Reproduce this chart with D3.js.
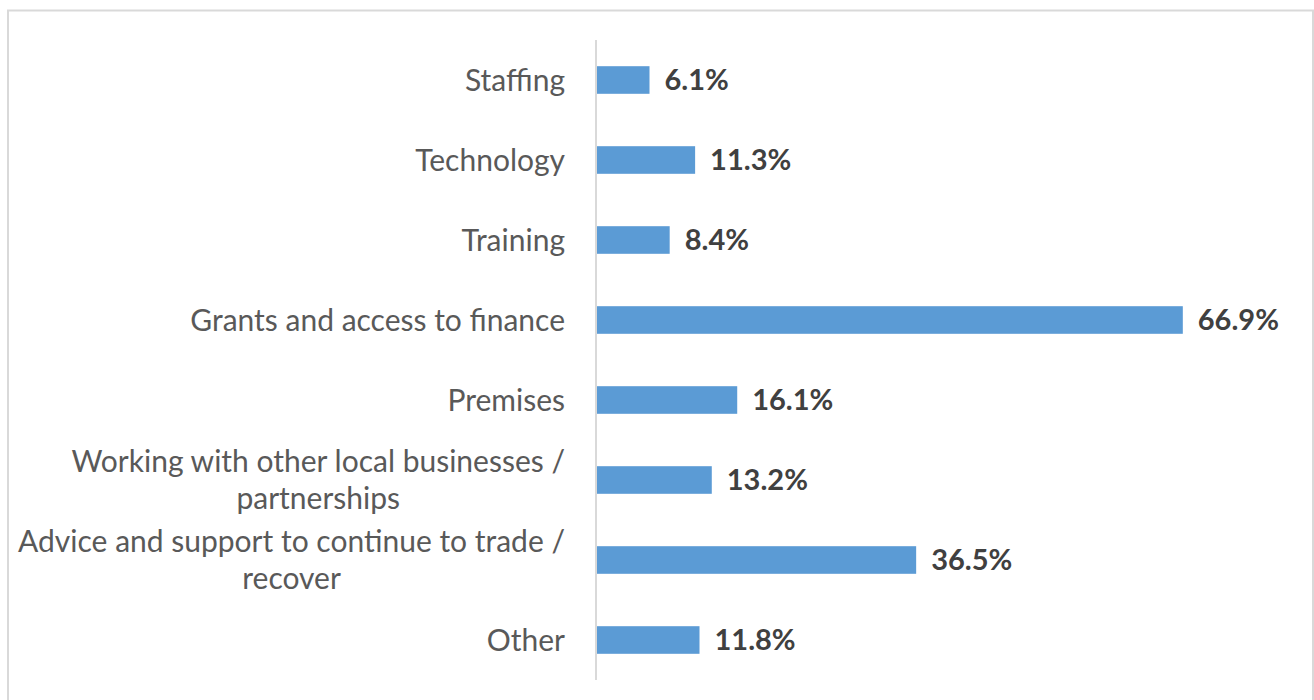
<!DOCTYPE html>
<html lang="en">
<head>
    <meta charset="UTF-8">
    <title>Support needed</title>
    <script src="https://d3js.org/d3.v7.min.js"></script>
    <style>
        body {
            margin: 0;
            padding: 0;
            background: #fff;
            font-family: Lato, "Open Sans", sans-serif;
        }
    </style>
</head>
<body>
<div id="chart"></div>
<script>
// categories, top to bottom
const categories = [
    "Staffing",
    "Technology",
    "Training",
    "Grants and access to finance",
    "Premises",
    "Working with other local businesses / partnerships",
    "Advice and support to continue to trade / recover",
    "Other"
];
// share of responses (%)
const values = [6.1, 11.3, 8.4, 66.9, 16.1, 13.2, 36.5, 11.8];

const width = 1314, height = 700;
const svg = d3.select("#chart")
  .append("svg")
  .attr("width", width)
  .attr("height", height);

// chart frame
svg.append("rect")
  .attr("x", 8).attr("y", 10.5)
  .attr("width", 1305).attr("height", 720)
  .attr("fill", "none")
  .attr("stroke", "#d9d9d9")
  .attr("stroke-width", 2);

const x = d3.scaleLinear().domain([0, 70]).range([596, 1210]);
const y = d3.scaleBand()
  .domain(categories)
  .range([40, 680])
  .paddingInner(0.655)
  .paddingOuter(0.3275);

// bars
svg.append("g")
  .selectAll("rect")
  .data(categories)
  .join("rect")
  .attr("x", x(0))
  .attr("y", d => y(d))
  .attr("width", (d, i) => x(values[i]) - x(0))
  .attr("height", y.bandwidth())
  .attr("fill", "#5b9bd5");

// vertical axis line
svg.append("line")
  .attr("x1", x(0)).attr("x2", x(0))
  .attr("y1", 40).attr("y2", 680)
  .attr("stroke", "#d9d9d9")
  .attr("stroke-width", 2);

// value labels
svg.append("g")
  .selectAll("text")
  .data(categories)
  .join("text")
  .attr("x", (d, i) => x(values[i]) + 15)
  .attr("y", d => y(d) + y.bandwidth() / 2)
  .attr("dy", "0.35em")
  .attr("font-size", 29)
  .attr("font-weight", "bold")
  .attr("fill", "#404040")
  .text((d, i) => values[i].toFixed(1) + "%");

// category labels, wrapped and centred like the original
const labelRight = 565, maxW = 560, lineH = 37;
const labels = svg.append("g")
  .selectAll("text")
  .data(categories)
  .join("text")
  .attr("font-size", 30)
  .attr("fill", "#595959")
  .attr("y", d => y(d) + y.bandwidth() / 2);

labels.each(function(d) {
    const t = d3.select(this);
    const words = d.split(" ");
    const lines = [];
    let cur = [];
    const probe = t.append("tspan");
    words.forEach(w => {
        probe.text(cur.concat(w).join(" "));
        if (cur.length && probe.node().getComputedTextLength() > maxW) {
            lines.push(cur.join(" "));
            cur = [w];
        } else {
            cur.push(w);
        }
    });
    lines.push(cur.join(" "));
    // measure widest line
    let wMax = 0;
    lines.forEach(l => {
        probe.text(l);
        wMax = Math.max(wMax, probe.node().getComputedTextLength());
    });
    probe.remove();
    const cx = labelRight - wMax / 2;
    const y0 = +t.attr("y");
    t.attr("text-anchor", "middle");
    lines.forEach((l, i) => {
        t.append("tspan")
          .attr("x", cx)
          .attr("y", y0 + (i - (lines.length - 1) / 2) * lineH)
          .attr("dy", "0.35em")
          .text(l);
    });
});
</script>
</body>
</html>
